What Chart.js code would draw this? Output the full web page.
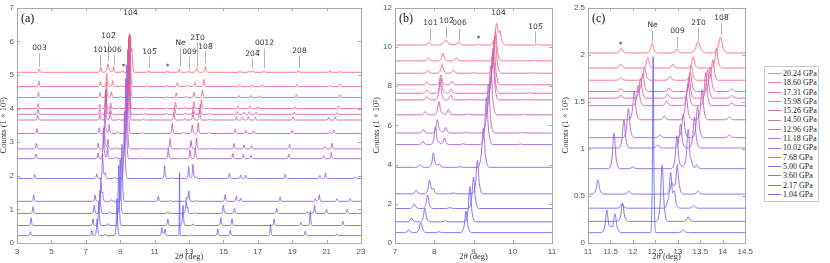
<!DOCTYPE html>
<html>
<head>
<meta charset="utf-8">
<script src="https://cdn.jsdelivr.net/npm/chart.js@4.4.1/dist/chart.umd.min.js"></script>
<style>
  body { margin: 0; background: #fff; }
  #wrap { position: relative; width: 830px; height: 263px; overflow: hidden; }
  #wrap canvas { position: absolute; top: 0; }
  #legend { position: absolute; left: 764px; top: 66px; width: 53px; border: 1px solid #c8c8c8;
            background: #fff; padding: 2px 0; font: 8px "Liberation Serif", serif; color: #222; }
  #legend .row { height: 9.3px; line-height: 9.3px; white-space: nowrap; display: flex; align-items: center; }
  #legend .swatch { display: inline-block; width: 13px; height: 0; margin: 0 2px 0 3px; border-top: 1px solid; }
</style>
</head>
<body>
<div id="wrap">
  <canvas id="panel-a" width="373" height="263" style="left:0px"></canvas>
  <canvas id="panel-b" width="189" height="263" style="left:373px"></canvas>
  <canvas id="panel-c" width="195" height="263" style="left:562px"></canvas>
  <div id="legend"></div>
</div>
<script>
// pressures, bottom trace first
const pressures = [1.04, 2.17, 3.60, 5.00, 7.68, 10.02, 11.18, 12.96, 14.50, 15.26, 15.98, 17.31, 18.60, 20.24];
const traceColors = [
  'rgba(100,100,255,0.85)', 'rgba(110,95,245,0.85)', 'rgba(125,95,240,0.85)', 'rgba(135,90,232,0.85)',
  'rgba(150,90,225,0.85)', 'rgba(165,90,215,0.85)', 'rgba(180,90,205,0.85)', 'rgba(192,90,192,0.85)',
  'rgba(205,90,178,0.85)', 'rgba(215,90,165,0.85)', 'rgba(228,92,150,0.85)', 'rgba(238,95,135,0.85)',
  'rgba(246,98,122,0.85)', 'rgba(255,100,110,0.85)'
];

// vertical offsets of each trace in the three panels
const offsetsA = [0.22, 0.52, 0.88, 1.24, 1.92, 2.51, 2.80, 3.26, 3.66, 3.83, 4.00, 4.33, 4.66, 5.08];
const offsetsB = [0.53, 1.08, 1.76, 2.51, 3.86, 5.02, 5.61, 6.54, 7.30, 7.64, 8.07, 8.66, 9.29, 10.10];
const offsetsC = [0.11, 0.23, 0.37, 0.52, 0.79, 1.01, 1.12, 1.31, 1.46, 1.54, 1.61, 1.73, 1.86, 2.02];

// peaks: [2theta, height, half width]
const peaks = [
  /* 1.04 */ [[3.78,.12],[7.35,.15],[7.66,.5,.05],[8.12,.05],[8.81,1.1,.05],[11.42,.24],[11.6,.2,.05],[12.45,1.87,.02],[13.12,.03],[14.67,.2],[15.4,.15],[17.74,.34],[19.76,.13],[21.6,.05]],
  /* 2.17 */ [[3.82,.23],[7.42,.2],[7.76,.7],[8.28,.06],[8.91,1.8,.05],[11.77,.19],[12.65,.6],[13.23,.05],[14.85,.24],[15.5,.2],[17.95,.2],[19.5,.1],[20.05,.42],[21.95,.13]],
  /* 3.60 */ [[3.93,.2],[7.49,.24],[7.83,.7],[8.4,.05],[9.0,1.6,.05],[11.76,.05],[12.84,.36],[12.92,.12],[13.35,.03],[15.0,.25],[15.65,.15],[18.1,.15],[19.86,.05],[20.3,.25],[21.0,.13],[22.2,.13]],
  /* 5.00 */ [[3.97,.19],[7.54,.19],[7.88,.68],[7.98,.2],[8.5,.05],[9.1,1.7,.05],[11.22,.15],[11.91,.03],[12.86,.12],[12.99,.31],[13.45,.03],[15.1,.2],[15.75,.15],[16.0,.1],[18.3,.13],[20.34,.08],[20.57,.2],[21.6,.08],[22.38,.08]],
  /* 7.68 */ [[4.03,.12],[7.64,.14],[7.98,.73],[8.13,.17],[8.66,.04],[9.25,2.0,.055],[11.58,.38],[12.0,.02],[12.98,.35],[13.23,.42],[13.42,.04],[15.35,.16],[16.0,.1],[16.3,.1],[18.6,.13],[20.6,.09],[20.93,.17],[22.67,.05]],
  /* 10.02 */ [[4.1,.14],[7.71,.17],[8.03,.9],[8.26,.34],[8.74,.05],[9.33,2.4,.055],[10.2,.03],[11.8,.3],[12.55,.03],[13.06,.25],[13.37,.33],[15.55,.15],[16.15,.13],[16.6,.1],[18.8,.14],[20.83,.09],[21.27,.18]],
  /* 11.18 */ [[4.13,.17],[7.72,.17],[8.08,.68],[8.29,.29],[8.79,.05],[9.38,2.5,.055],[10.25,.03],[11.9,.31],[12.6,.03],[13.12,.25],[13.44,.33],[14.15,.03],[15.62,.16],[16.2,.12],[16.63,.1],[18.85,.14],[20.9,.07],[21.31,.17]],
  /* 12.96 */ [[4.16,.15],[7.77,.17],[8.12,.68],[8.36,.27],[8.85,.05],[9.44,2.5,.055],[10.3,.03],[12.03,.3],[12.7,.04],[13.19,.25],[13.54,.32],[14.15,.03],[15.68,.12],[16.3,.1],[16.75,.08],[19.0,.1],[21.18,.05],[21.41,.1]],
  /* 14.50 */ [[4.2,.15],[7.81,.17],[8.15,.9],[8.42,.25],[8.9,.04],[9.49,2.4,.055],[10.35,.03],[12.12,.22],[12.75,.05],[13.23,.24],[13.62,.35],[14.2,.03],[15.75,.1],[16.1,.08],[16.45,.1],[16.85,.08],[19.05,.1],[21.12,.08],[21.5,.1]],
  /* 15.26 */ [[4.22,.15],[7.81,.17],[8.17,.75],[8.43,.22],[9.5,2.3,.055],[10.4,.03],[11.73,.03],[12.17,.21],[12.77,.04],[13.25,.22],[13.66,.3],[14.2,.03],[15.8,.08],[16.2,.06],[16.5,.08],[16.9,.06],[19.12,.06],[21.6,.05]],
  /* 15.98 */ [[4.23,.15],[7.81,.14],[8.17,.5],[8.45,.17],[8.96,.03],[9.52,2.2,.055],[10.45,.03],[11.73,.03],[12.22,.19],[12.8,.04],[13.28,.2],[13.72,.26],[14.2,.03],[15.85,.08],[16.55,.08],[17.0,.06],[19.15,.06],[21.7,.08]],
  /* 17.31 */ [[4.25,.16],[7.83,.14],[8.2,.45],[8.49,.17],[9.0,.03],[9.55,1.9,.055],[10.5,.03],[11.73,.03],[12.26,.14],[12.83,.04],[13.3,.16],[13.78,.22],[15.9,.06],[16.6,.06],[17.1,.05],[19.24,.09],[21.8,.08]],
  /* 18.60 */ [[4.27,.16],[7.85,.14],[8.22,.39],[8.56,.17],[9.05,.03],[9.56,1.5,.055],[10.55,.03],[11.73,.04],[12.33,.11],[12.89,.04],[13.34,.12],[13.86,.21],[15.95,.05],[16.7,.05],[17.25,.05],[19.28,.07],[21.2,.04],[21.8,.08]],
  /* 20.24 */ [[4.3,.09],[7.87,.14],[8.29,.25,.08],[8.62,.17],[9.13,.05],[9.59,1.0,.055],[9.67,.5,.05],[10.65,.05],[11.74,.05],[12.43,.1],[12.98,.04],[13.45,.12,.07],[13.95,.17,.06],[15.95,.04],[16.5,.04],[16.7,.05],[17.37,.05],[19.37,.06],[21.2,.05],[21.8,.04]]
];

// reflection labels: text, 2theta, text height, guide line [top, bottom] (data units)
const labelsA = ['003', '101', '102\u0305', '006', '*', '104', '105\u0305', '*', 'Ne', '009', '21\u03050', '108\u0305', '204\u0305', '0012', '208'];
const labelXA = [4.3, 7.82, 8.3, 8.65, 9.14, 9.55, 10.65, 11.74, 12.45, 13.0, 13.45, 13.93, 16.67, 17.37, 19.37];
const labelYA = [5.79, 5.74, 6.15, 5.74, 5.24, 6.85, 5.67, 5.24, 5.94, 5.67, 6.11, 5.84, 5.62, 5.94, 5.71];
const guideA = [[5.64,5.25],[5.59,5.25],[5.99,5.4],[5.59,5.3],null,null,[5.54,5.2],null,[5.79,5.25],[5.54,5.15],[5.99,5.25],[5.69,5.35],[5.5,5.2],[5.79,5.2],[5.57,5.2]];

const labelsB = ['101', '102\u0305', '006', '*', '104', '105\u0305'];
const labelXB = [7.89, 8.29, 8.62, 9.12, 9.63, 10.57];
const labelYB = [11.2, 11.34, 11.2, 10.39, 11.71, 11.03];
const guideB = [[10.95,10.3],[11.03,10.44],[10.95,10.3],null,null,[10.78,10.18]];

const labelsC = ['*', 'Ne', '009', '21\u03050', '108\u0305'];
const labelXC = [11.72, 12.43, 12.98, 13.45, 13.95];
const labelYC = [2.10, 2.32, 2.25, 2.34, 2.39];
const guideC = [null, [2.26,2.14], [2.19,2.07], [2.29,2.15], [2.34,2.21]];

const DEFAULT_W = 0.045;
const shapeT = [-3, -1, 0, 1, 3];
const shapeV = [0, 0.3, 1, 0.3, 0];

function peakAt(x, pk) {
  const w = pk[2] || DEFAULT_W;
  const t = (x - pk[0]) / w;
  if (t <= -3 || t >= 3) return 0;
  for (let i = 0; i < 4; i++) {
    if (t <= shapeT[i + 1]) {
      const f = (t - shapeT[i]) / (shapeT[i + 1] - shapeT[i]);
      return pk[1] * (shapeV[i] + f * (shapeV[i + 1] - shapeV[i]));
    }
  }
  return 0;
}

function buildTrace(list, base, xmin, xmax) {
  const xs = new Set([xmin, xmax]);
  list.forEach(pk => {
    const w = pk[2] || DEFAULT_W;
    shapeT.forEach(t => xs.add(+(pk[0] + t * w).toFixed(4)));
  });
  return [...xs].filter(x => x >= xmin && x <= xmax).sort((a, b) => a - b)
    .map(x => ({ x, y: base + list.reduce((s, pk) => s + peakAt(x, pk), 0) }));
}

const tickText = v => String(+v.toFixed(2));

const framePlugin = {
  id: 'frame',
  afterDatasetsDraw(chart, args, opts) {
    const { ctx, chartArea: a, scales: { x, y } } = chart;
    ctx.save();
    // guide lines and reflection labels
    ctx.strokeStyle = '#b4b4b4';
    ctx.lineWidth = 1;
    ctx.fillStyle = '#333';
    ctx.font = '7.5px "DejaVu Sans", sans-serif';
    ctx.textAlign = 'center';
    ctx.textBaseline = 'middle';
    opts.labels.forEach((t, i) => {
      const px = Math.round(x.getPixelForValue(opts.xs[i])) + 0.5;
      const g = opts.guides[i];
      if (g) {
        ctx.beginPath();
        ctx.moveTo(px, y.getPixelForValue(g[0]));
        ctx.lineTo(px, y.getPixelForValue(g[1]));
        ctx.stroke();
      }
      ctx.fillText(t, px, y.getPixelForValue(opts.ys[i]));
    });
    // box
    ctx.strokeStyle = '#a8a8a8';
    ctx.strokeRect(Math.round(a.left) + 0.5, Math.round(a.top) + 0.5, Math.round(a.right - a.left), Math.round(a.bottom - a.top));
    // inward ticks
    ctx.beginPath();
    x.ticks.forEach(t => {
      const px = Math.round(x.getPixelForValue(t.value)) + 0.5;
      ctx.moveTo(px, a.bottom); ctx.lineTo(px, a.bottom - 3);
      ctx.moveTo(px, a.top); ctx.lineTo(px, a.top + 3);
    });
    y.ticks.forEach(t => {
      const py = Math.round(y.getPixelForValue(t.value)) + 0.5;
      ctx.moveTo(a.left, py); ctx.lineTo(a.left + 3, py);
      ctx.moveTo(a.right, py); ctx.lineTo(a.right - 3, py);
    });
    ctx.stroke();
    // panel letter
    ctx.fillStyle = '#111';
    ctx.font = '12px "Liberation Serif", serif';
    ctx.textAlign = 'left';
    ctx.fillText(opts.letter, a.left + 4, a.top + 11);
    // x axis title with italic theta
    const cx = (a.left + a.right) / 2;
    const ty = chart.height - 6;
    ctx.fillStyle = '#333';
    const parts = [['2', 'normal'], ['\u03b8', 'italic'], [' (deg)', 'normal']];
    let total = 0;
    parts.forEach(p => { ctx.font = p[1] + ' 8.5px "Liberation Serif", serif'; total += ctx.measureText(p[0]).width; });
    let cur = cx - total / 2;
    parts.forEach(p => {
      ctx.font = p[1] + ' 8.5px "Liberation Serif", serif';
      ctx.fillText(p[0], cur, ty);
      cur += ctx.measureText(p[0]).width;
    });
    ctx.restore();
  }
};

function makePanel(id, offsets, xr, yr, xStep, yStep, yAxisW, padRight, letter, labels, xs, ys, guides) {
  const datasets = peaks.map((list, i) => ({
    label: pressures[i].toFixed(2) + ' GPa',
    data: buildTrace(list, offsets[i], xr[0], xr[1]),
    borderColor: traceColors[i],
    borderWidth: 1,
    pointRadius: 0,
    cubicInterpolationMode: 'monotone',
    fill: false
  }));
  return new Chart(document.getElementById(id), {
    type: 'line',
    data: { datasets },
    plugins: [framePlugin],
    options: {
      responsive: false,
      animation: false,
      parsing: false,
      normalized: true,
      events: [],
      layout: { padding: { top: 6, right: padRight, bottom: 0, left: 0 } },
      plugins: {
        legend: { display: false },
        tooltip: { enabled: false },
        frame: { letter, labels, xs, ys, guides }
      },
      scales: {
        x: {
          type: 'linear', min: xr[0], max: xr[1],
          grid: { display: false, drawTicks: false },
          border: { display: false },
          ticks: { stepSize: xStep, padding: 4, color: '#555', callback: tickText,
                   font: { family: '"Liberation Sans", sans-serif', size: 8 }, maxRotation: 0, autoSkip: false },
          afterFit: s => { s.height = 20; }
        },
        y: {
          type: 'linear', min: yr[0], max: yr[1],
          grid: { display: false, drawTicks: false },
          border: { display: false },
          ticks: { stepSize: yStep, padding: 3, color: '#555', callback: tickText,
                   font: { family: '"Liberation Sans", sans-serif', size: 8 } },
          title: { display: true, text: 'Counts (1 \u00d7 10\u00b3)', color: '#333', padding: 0,
                   font: { family: '"Liberation Serif", serif', size: 8.5, lineHeight: 1 } },
          afterFit: s => { s.width = yAxisW; }
        }
      }
    }
  });
}

makePanel('panel-a', offsetsA, [3, 23], [0, 7], 2, 1, 17, 12, '(a)', labelsA, labelXA, labelYA, guideA);
makePanel('panel-b', offsetsB, [7, 11], [0, 12], 1, 2, 22, 10, '(b)', labelsB, labelXB, labelYB, guideB);
makePanel('panel-c', offsetsC, [11, 14.5], [0, 2.5], 0.5, 0.5, 26, 6, '(c)', labelsC, labelXC, labelYC, guideC);

// legend, highest pressure on top
const legend = document.getElementById('legend');
pressures.map((p, i) => i).reverse().forEach(i => {
  const row = document.createElement('div');
  row.className = 'row';
  row.innerHTML = `<span class="swatch" style="border-color:${traceColors[i]}"></span>${pressures[i].toFixed(2)} GPa`;
  legend.appendChild(row);
});
</script>
</body>
</html>
